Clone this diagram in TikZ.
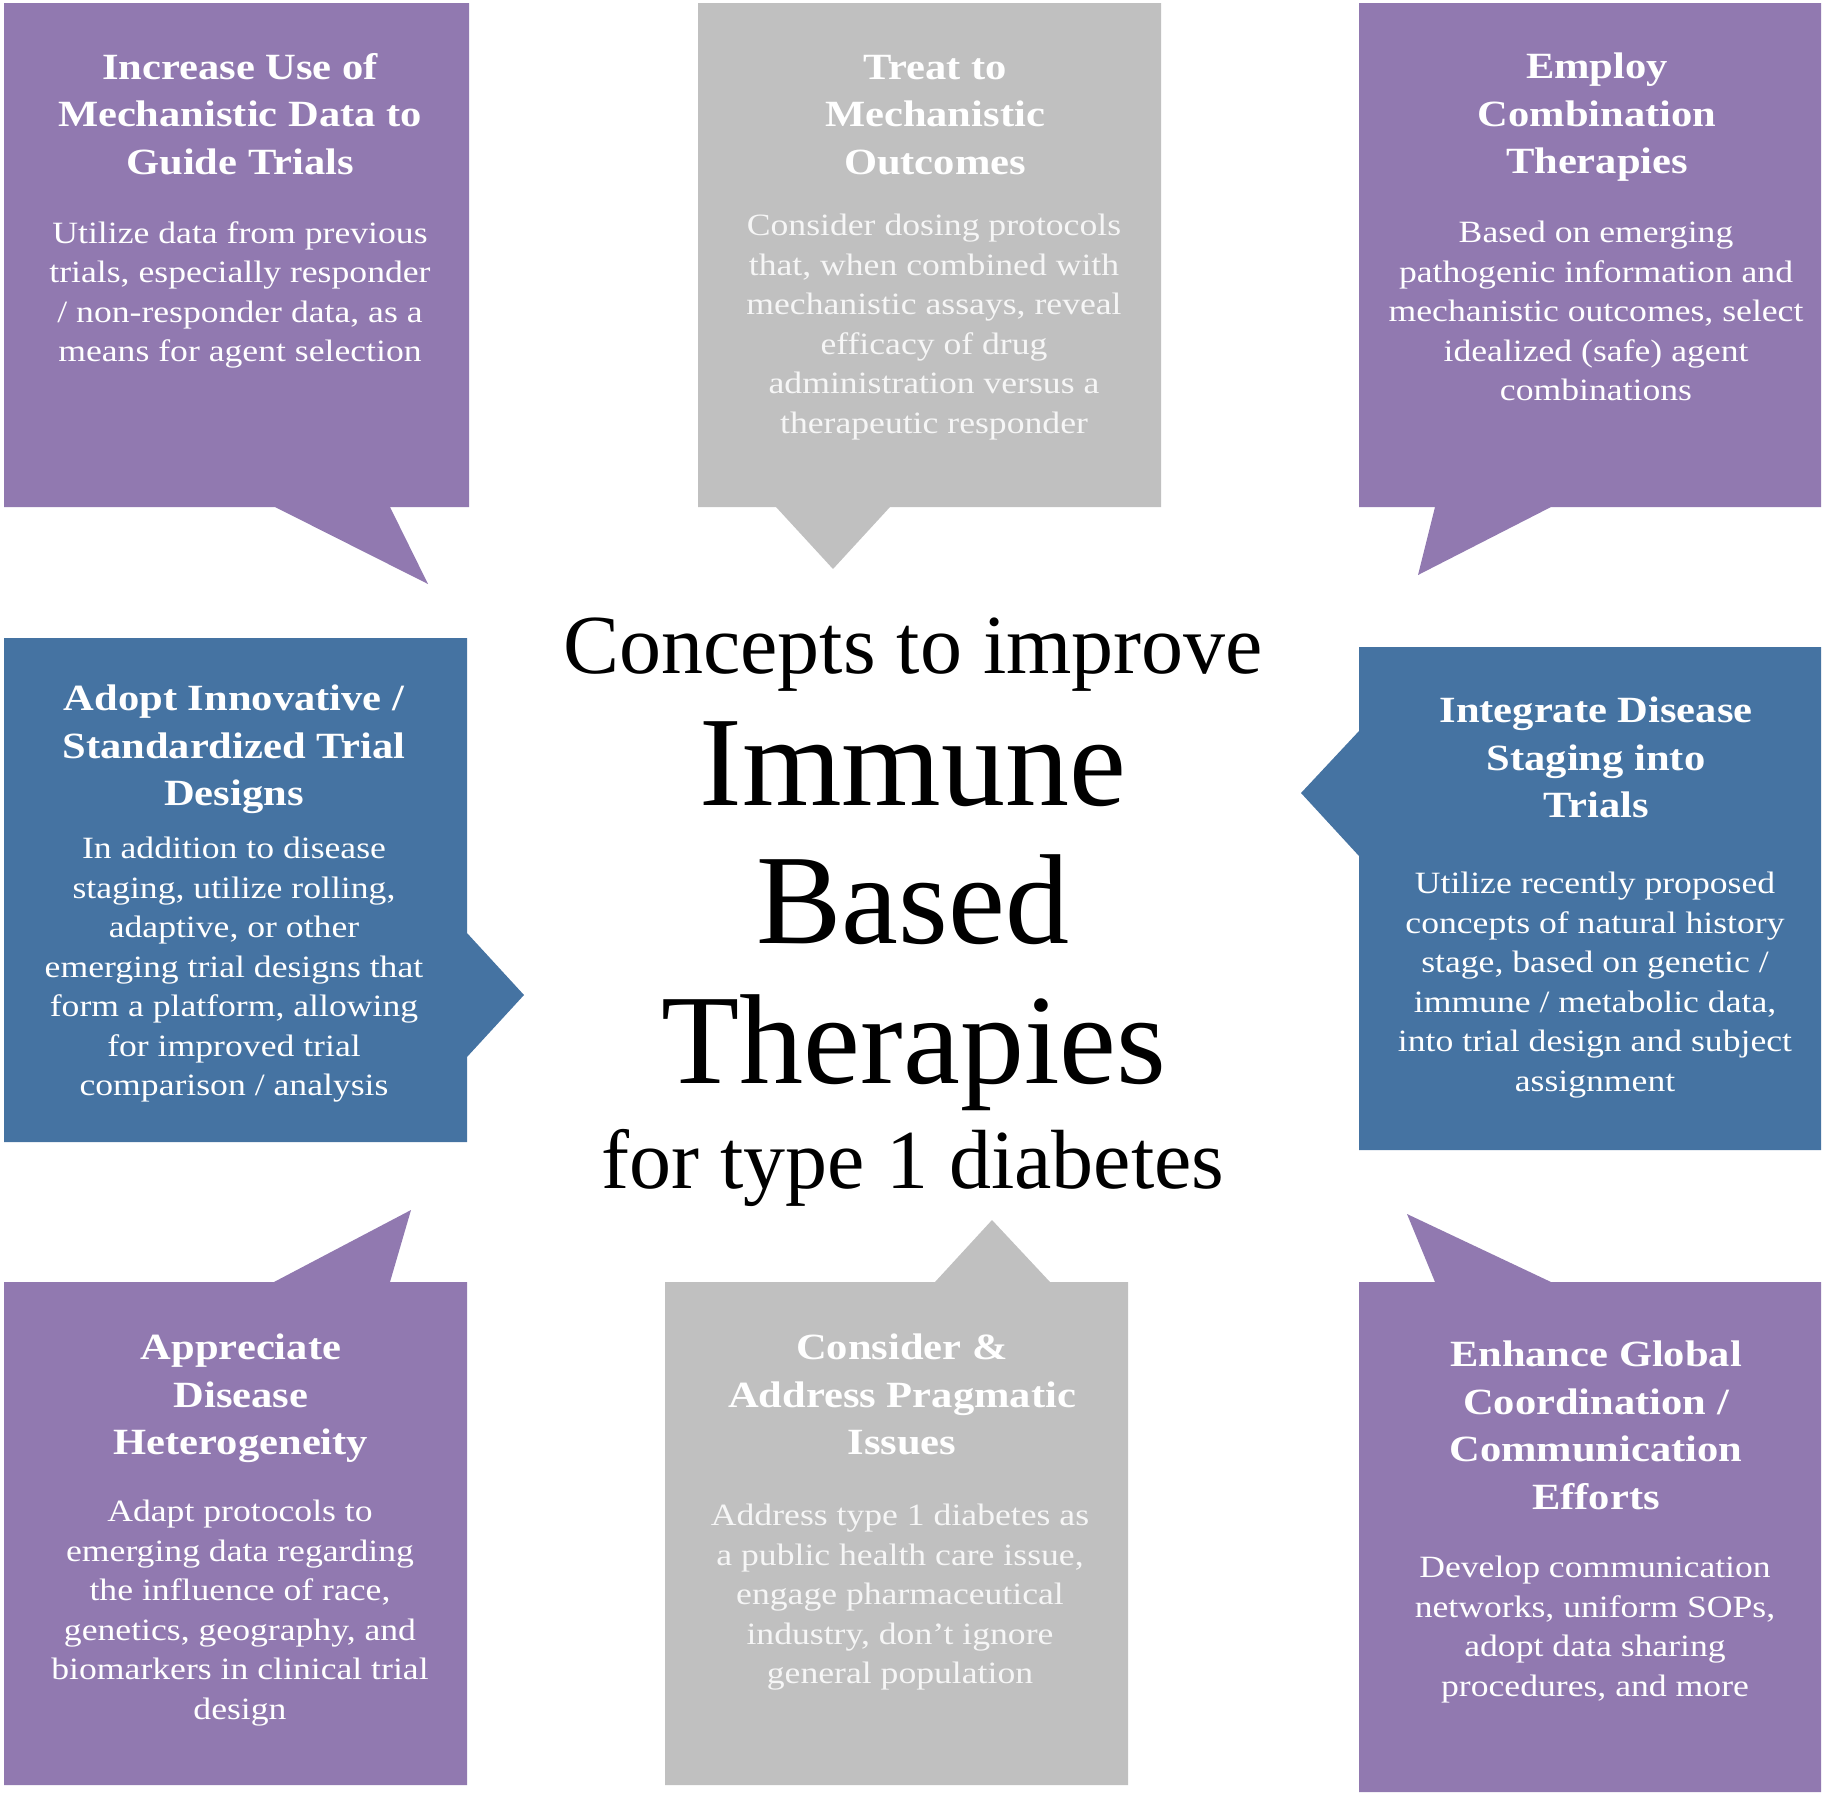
\documentclass[tikz,border=0pt]{standalone}
\usepackage{fontspec}
\setmainfont{Liberation Serif}
\newfontfamily\boxfont[FakeStretch=1.15]{Liberation Serif}
\usepackage{tikz}
\usetikzlibrary{positioning}
\definecolor{conceptpurple}{RGB}{145,121,176}
\definecolor{conceptblue}{RGB}{69,115,162}
\definecolor{conceptgray}{RGB}{192,192,192}
\definecolor{softwhite}{RGB}{246,246,246}

\begin{document}
\begin{tikzpicture}[
  x=1pt, y=-1pt,
  pcall/.style={fill=conceptpurple},
  bcall/.style={fill=conceptblue},
  gcall/.style={fill=conceptgray},
  head/.style={anchor=north, inner sep=0pt, align=center, text=white,
               font=\boxfont\bfseries\fontsize{37}{47.5}\selectfont},
  body/.style={anchor=north, inner sep=0pt, align=center, text=white,
               font=\boxfont\fontsize{31}{39.5}\selectfont},
  big/.style={anchor=base, inner sep=0pt, font=\fontsize{128}{139}\selectfont},
  sub/.style={anchor=base, inner sep=0pt, font=\fontsize{84}{96}\selectfont},
]
\useasboundingbox (0,0) rectangle (1830,1796);

%% Top row: callouts pointing down to the centre
\fill[pcall] (4,3) -- (469,3) -- (469,507) -- (390,507) -- (428,584) -- (275,507) -- (4,507) -- cycle;
\fill[gcall] (698,3) -- (1161,3) -- (1161,507) -- (890,507) -- (833,569) -- (776,507) -- (698,507) -- cycle;
\fill[pcall] (1359,3) -- (1821,3) -- (1821,507) -- (1551,507) -- (1418,575) -- (1435,507) -- (1359,507) -- cycle;

\node[head] (mechdata-title) at (240,53) {Increase Use of\\Mechanistic Data to\\Guide Trials};
\node[body] (mechdata-text) at (240,221) {Utilize data from previous\\trials, especially responder\\/ non-responder data, as a\\means for agent selection};

\node[head] (treat-title) at (935,55) {Treat to\\Mechanistic\\Outcomes};
\node[body, text=softwhite] (treat-text) at (934,214) {Consider dosing protocols\\that, when combined with\\mechanistic assays, reveal\\efficacy of drug\\administration versus a\\therapeutic responder};

\node[head] (combo-title) at (1597,53) {Employ\\Combination\\Therapies};
\node[body] (combo-text) at (1596,221) {Based on emerging\\pathogenic information and\\mechanistic outcomes, select\\idealized (safe) agent\\combinations};

%% Middle row: arrows pointing inwards
\fill[bcall] (4,638) -- (467,638) -- (467,933) -- (524,995) -- (467,1057) -- (467,1142) -- (4,1142) -- cycle;
\fill[bcall] (1359,647) -- (1821,647) -- (1821,1150) -- (1359,1150) -- (1359,856) -- (1301,793) -- (1359,731) -- cycle;

\node[head] (design-title) at (234,685) {Adopt Innovative /\\Standardized Trial\\Designs};
\node[body] (design-text) at (234,837) {In addition to disease\\staging, utilize rolling,\\adaptive, or other\\emerging trial designs that\\form a platform, allowing\\for improved trial\\comparison / analysis};

\node[head] (staging-title) at (1596,697) {Integrate Disease\\Staging into\\Trials};
\node[body] (staging-text) at (1595,872) {Utilize recently proposed\\concepts of natural history\\stage, based on genetic /\\immune / metabolic data,\\into trial design and subject\\assignment};

%% Centre heading
\node[sub] (concepts) at (913,673) {Concepts to improve};
\node[big] (immune) at (913,805) {Immune};
\node[big] (based) at (913,943) {Based};
\node[big] (therapies) at (914,1083) {Therapies};
\node[sub] (diabetes) at (913,1188) {for type 1 diabetes};

%% Bottom row: callouts pointing up to the centre
\fill[pcall] (4,1282) -- (274,1282) -- (411,1210) -- (390,1282) -- (467,1282) -- (467,1785) -- (4,1785) -- cycle;
\fill[gcall] (665,1282) -- (935,1282) -- (992,1220) -- (1050,1282) -- (1128,1282) -- (1128,1785) -- (665,1785) -- cycle;
\fill[pcall] (1359,1282) -- (1435,1282) -- (1407,1214) -- (1551,1282) -- (1821,1282) -- (1821,1792) -- (1359,1792) -- cycle;

\node[head] (hetero-title) at (241,1334) {Appreciate\\Disease\\Heterogeneity};
\node[body] (hetero-text) at (240,1500) {Adapt protocols to\\emerging data regarding\\the influence of race,\\genetics, geography, and\\biomarkers in clinical trial\\design};

\node[head] (pragma-title) at (902,1334) {Consider \&\\Address Pragmatic\\Issues};
\node[body, text=softwhite] (pragma-text) at (900,1504) {Address type 1 diabetes as\\a public health care issue,\\engage pharmaceutical\\industry, don’t ignore\\general population};

\node[head] (global-title) at (1596,1341) {Enhance Global\\Coordination /\\Communication\\Efforts};
\node[body] (global-text) at (1595,1556) {Develop communication\\networks, uniform SOPs,\\adopt data sharing\\procedures, and more};

\end{tikzpicture}
\end{document}
